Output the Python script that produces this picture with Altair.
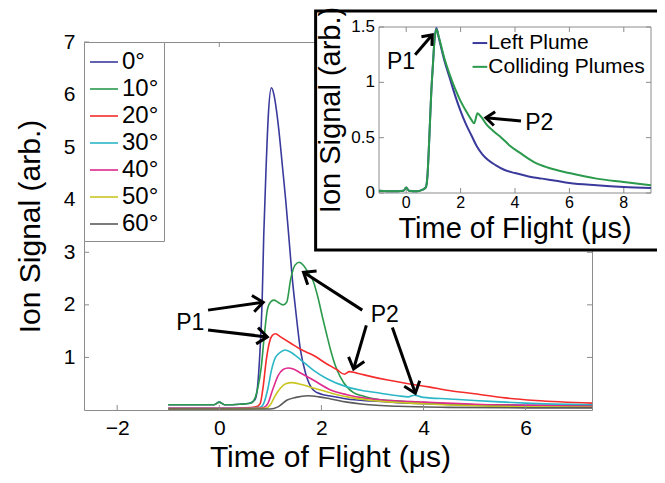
import math
import altair as alt
import pandas as pd

# ---------------- data ----------------
angles = ["0°", "10°", "20°", "30°", "40°", "50°", "60°"]
colors = ["#3a3a9c", "#2b9a4c", "#f52c2c", "#2bb7c6", "#df2a8e", "#c9c622", "#5a5a5a"]

t_0 = [-1.0, -0.5, -0.1, 0.0, 0.1, 0.4, 0.6, 0.7, 0.75, 0.79, 0.84, 0.87, 0.92, 0.96, 1.02, 1.07, 1.12, 1.18,
       1.23, 1.30, 1.37, 1.43, 1.49, 1.59, 1.69, 1.84, 2.0, 2.2, 2.5, 3.0, 3.5, 4.0, 5.0, 6.0, 7.3]
s_0 = [0.10, 0.10, 0.10, 0.15, 0.10, 0.11, 0.13, 0.20, 0.45, 1.00, 2.10, 3.30, 4.70, 5.60, 6.13, 6.00, 5.70, 5.20,
       4.70, 4.00, 3.20, 2.50, 1.95, 1.14, 0.70, 0.38, 0.30, 0.26, 0.21, 0.17, 0.14, 0.12, 0.10, 0.09, 0.08]
t_10 = [-1.0, -0.5, -0.1, 0.0, 0.1, 0.4, 0.6, 0.65, 0.75, 0.82, 0.88, 0.94, 1.0, 1.07, 1.15, 1.25, 1.32, 1.40,
        1.48, 1.56, 1.65, 1.75, 1.84, 1.93, 2.02, 2.10, 2.18, 2.27, 2.37, 2.50, 2.63, 2.80, 3.0, 3.5, 4.0, 5.0, 6.0, 7.3]
s_10 = [0.10, 0.10, 0.10, 0.15, 0.10, 0.11, 0.13, 0.15, 0.40, 0.80, 1.40, 1.90, 2.05, 2.09, 2.05, 2.00, 2.05, 2.50,
        2.75, 2.81, 2.75, 2.60, 2.45, 2.15, 1.77, 1.45, 1.14, 0.85, 0.63, 0.44, 0.33, 0.27, 0.22, 0.17, 0.14, 0.10, 0.08, 0.07]
t_20 = [-1.0, -0.5, 0.0, 0.5, 0.72, 0.80, 0.86, 0.92, 0.98, 1.04, 1.10, 1.20, 1.40, 1.60, 1.84, 2.10, 2.30, 2.45,
        2.55, 2.70, 3.0, 3.3, 3.7, 4.1, 4.5, 5.0, 5.6, 6.2, 7.3]
s_20 = [0.03, 0.03, 0.03, 0.04, 0.06, 0.12, 0.45, 0.95, 1.28, 1.42, 1.45, 1.39, 1.27, 1.15, 1.04, 0.88, 0.77, 0.68,
        0.73, 0.70, 0.63, 0.57, 0.50, 0.44, 0.37, 0.31, 0.23, 0.18, 0.13]
t_30 = [-1.0, 0.0, 0.5, 0.80, 0.88, 0.95, 1.02, 1.10, 1.20, 1.29, 1.40, 1.60, 1.84, 2.10, 2.50, 2.80, 3.16, 3.50,
        3.70, 3.82, 4.0, 4.5, 5.0, 5.6, 6.0, 7.3]
s_30 = [0.03, 0.03, 0.03, 0.05, 0.15, 0.40, 0.75, 1.00, 1.10, 1.14, 1.10, 0.95, 0.76, 0.60, 0.44, 0.37, 0.32, 0.27,
        0.25, 0.28, 0.24, 0.21, 0.18, 0.15, 0.13, 0.10]
t_40 = [-1.0, 0.0, 0.5, 0.85, 0.95, 1.05, 1.15, 1.25, 1.35, 1.45, 1.60, 1.84, 2.18, 2.50, 2.82, 3.20, 4.0, 5.0, 6.0, 7.3]
s_40 = [0.03, 0.03, 0.03, 0.04, 0.12, 0.40, 0.65, 0.77, 0.80, 0.78, 0.70, 0.57, 0.38, 0.29, 0.23, 0.19, 0.15, 0.11, 0.09, 0.07]
t_50 = [-1.0, 0.0, 0.90, 1.0, 1.10, 1.20, 1.30, 1.42, 1.55, 1.84, 2.20, 2.50, 3.0, 4.0, 5.0, 6.0, 7.3]
s_50 = [0.02, 0.02, 0.03, 0.10, 0.28, 0.42, 0.50, 0.52, 0.50, 0.42, 0.32, 0.25, 0.18, 0.12, 0.08, 0.06, 0.05]
t_60 = [-1.0, 0.0, 1.0, 1.15, 1.33, 1.50, 1.73, 1.95, 2.18, 2.50, 2.82, 3.5, 4.5, 6.0, 7.3]
s_60 = [0.02, 0.02, 0.02, 0.06, 0.19, 0.24, 0.27, 0.25, 0.21, 0.15, 0.11, 0.07, 0.05, 0.04, 0.04]

# inset
inset_names = ["Left Plume", "Colliding Plumes"]
inset_colors = ["#3a3a9c", "#2b9a4c"]
it_left = [-1.0, -0.5, -0.1, 0.0, 0.1, 0.4, 0.6, 0.72, 0.78, 0.85, 0.92, 0.98, 1.04, 1.11, 1.20, 1.40, 1.60, 1.80,
           2.0, 2.2, 2.4, 2.6, 2.8, 3.0, 3.3, 3.6, 4.0, 4.5, 5.0, 5.5, 6.0, 7.0, 8.0, 9.0]
is_left = [0.02, 0.015, 0.02, 0.05, 0.02, 0.015, 0.03, 0.05, 0.15, 0.50, 0.90, 1.15, 1.38, 1.49, 1.40, 1.20, 1.04, 0.88,
           0.74, 0.62, 0.52, 0.42, 0.35, 0.30, 0.25, 0.21, 0.18, 0.15, 0.13, 0.11, 0.09, 0.07, 0.055, 0.045]
it_coll = [-1.0, -0.5, -0.1, 0.0, 0.1, 0.4, 0.6, 0.72, 0.78, 0.85, 0.92, 0.98, 1.04, 1.11, 1.20, 1.40, 1.60, 1.80,
           2.0, 2.2, 2.4, 2.5, 2.62, 2.75, 2.95, 3.2, 3.5, 3.8, 4.2, 4.7, 5.2, 6.0, 7.0, 8.0, 9.0]
is_coll = [0.02, 0.015, 0.02, 0.05, 0.02, 0.015, 0.03, 0.05, 0.15, 0.50, 0.90, 1.15, 1.38, 1.48, 1.41, 1.22, 1.07, 0.94,
           0.83, 0.74, 0.66, 0.63, 0.72, 0.69, 0.62, 0.56, 0.50, 0.43, 0.36, 0.28, 0.23, 0.18, 0.13, 0.10, 0.07]

# axis ticks
x_ticks = [-2, 0, 2, 4, 6]
y_ticks = [1, 2, 3, 4, 5, 6, 7]
ix_ticks = [0, 2, 4, 6, 8]
iy_ticks = [0, 0.5, 1, 1.5]
iy_labels = ["0", "0.5", "1", "1.5"]

# annotations (data coordinates)
main_labels = ["P1", "P2"]
main_label_x = [-0.57, 3.24]
main_label_y = [1.65, 1.80]
main_arrow_tail_x = [-0.22, -0.22, 2.80, 2.88, 3.39]
main_arrow_tail_y = [1.90, 1.52, 1.90, 1.61, 1.57]
main_arrow_tip_x = [0.86, 0.94, 1.65, 2.63, 3.84]
main_arrow_tip_y = [2.05, 1.39, 2.62, 0.78, 0.32]

inset_labels = ["P1", "P2"]
inset_label_x = [-0.19, 4.89]
inset_label_y = [1.18, 0.63]
inset_arrow_tail_x = [0.33, 4.22]
inset_arrow_tail_y = [1.25, 0.65]
inset_arrow_tip_x = [0.96, 2.93]
inset_arrow_tip_y = [1.43, 0.68]

# ---------------- layout ----------------
W, H = 508, 368
X_DOM = [-2.65, 7.3]
Y_DOM = [0, 7]
IX_DOM = [-1, 9]
IY_DOM = [0, 1.5]
IX_RANGE = [295, 567]
IY_RANGE = [151, -15]
INSET_BOX = {"x0": -3.33, "x1": 9.48, "y0": -0.515, "y1": 1.645}
FRAME = "#8c8c8c"
FONT = "Liberation Sans"

SX = W / (X_DOM[1] - X_DOM[0])
SY = H / (Y_DOM[1] - Y_DOM[0])
ISX = (IX_RANGE[1] - IX_RANGE[0]) / (IX_DOM[1] - IX_DOM[0])
ISY = (IY_RANGE[0] - IY_RANGE[1]) / (IY_DOM[1] - IY_DOM[0])

msx = alt.Scale(domain=X_DOM, nice=False, zero=False)
msy = alt.Scale(domain=Y_DOM, nice=False, zero=False)
isx = alt.Scale(domain=IX_DOM, range=IX_RANGE, nice=False, zero=False)
isy = alt.Scale(domain=IY_DOM, range=IY_RANGE, nice=False, zero=False)


def MX(f):
    return alt.X(f, type="quantitative", scale=msx, axis=None)


def MY(f):
    return alt.Y(f, type="quantitative", scale=msy, axis=None)


def IX(f):
    return alt.X(f, type="quantitative", scale=isx, axis=None)


def IY(f):
    return alt.Y(f, type="quantitative", scale=isy, axis=None)


# ---------------- main lines ----------------
series_t = [t_0, t_10, t_20, t_30, t_40, t_50, t_60]
series_s = [s_0, s_10, s_20, s_30, s_40, s_50, s_60]
rows = []
for a, ts, ss in zip(angles, series_t, series_s):
    for t, s in zip(ts, ss):
        rows.append({"angle": a, "t": t, "v": s})
main_df = pd.DataFrame(rows)

main_lines = alt.Chart(main_df).mark_line(strokeWidth=1.6, interpolate="monotone").encode(
    x=alt.X("t:Q", scale=msx, axis=alt.Axis(
        values=x_ticks, title="Time of Flight (μs)", labelFontSize=21, labelColor="black",
        tickSize=0, domain=False, grid=False, labelPadding=7, titleFontSize=30,
        titleFontWeight="normal", titleColor="black", titlePadding=4, titleX=246)),
    y=alt.Y("v:Q", scale=msy, axis=alt.Axis(
        values=y_ticks, title="Ion Signal (arb.)", labelFontSize=21, labelColor="black",
        tickSize=0, domain=False, grid=False, labelPadding=9, titleFontSize=30,
        titleFontWeight="normal", titleColor="black", titlePadding=18)),
    color=alt.Color("angle:N", sort=angles, scale=alt.Scale(domain=angles, range=colors),
                    legend=alt.Legend(title=None, orient="top-left", offset=0, strokeColor=FRAME,
                                      fillColor="white", padding=5, symbolType="stroke",
                                      symbolSize=784, symbolStrokeWidth=1.6, labelFontSize=24,
                                      labelColor="black", rowPadding=0, labelOffset=3)),
    detail="angle:N",
)

# main inward ticks
xt_df = pd.DataFrame({"v": x_ticks})
yt_df = pd.DataFrame({"v": y_ticks})
tick_bot = alt.Chart(xt_df).mark_rule(color=FRAME).encode(x=MX("v"), y=alt.value(H), y2=alt.value(H - 5))
tick_top = alt.Chart(xt_df).mark_rule(color=FRAME).encode(x=MX("v"), y=alt.value(0), y2=alt.value(5))
tick_left = alt.Chart(yt_df).mark_rule(color=FRAME).encode(y=MY("v"), x=alt.value(0), x2=alt.value(5))
tick_right = alt.Chart(yt_df).mark_rule(color=FRAME).encode(y=MY("v"), x=alt.value(W), x2=alt.value(W - 5))


def arrow_layers(tx, ty, px, py, xf, yf, sx, sy, size):
    angs = [math.degrees(math.atan2(-(b2 - b1) * sy, (a2 - a1) * sx)) % 360
            for a1, b1, a2, b2 in zip(tx, ty, px, py)]
    df = pd.DataFrame({"x": tx, "y": ty, "x2": px, "y2": py, "ang": angs})
    shaft = alt.Chart(df).mark_rule(color="black", strokeWidth=3).encode(
        x=xf("x"), y=yf("y"), x2="x2:Q", y2="y2:Q")
    head = alt.Chart(df).mark_point(shape="M-1,-0.8L0,0L-1,0.8", filled=False, color="black",
                                    strokeWidth=3, size=size, opacity=1).encode(
        x=xf("x2"), y=yf("y2"), angle=alt.Angle("ang:Q", scale=None))
    return [shaft, head]


main_arrows = arrow_layers(main_arrow_tail_x, main_arrow_tail_y, main_arrow_tip_x, main_arrow_tip_y,
                           MX, MY, SX, SY, 420)
main_text = alt.Chart(pd.DataFrame({"x": main_label_x, "y": main_label_y, "s": main_labels})).mark_text(
    fontSize=23, color="black", align="center", baseline="middle").encode(x=MX("x"), y=MY("y"), text="s:N")

# ---------------- inset ----------------
box = alt.Chart(pd.DataFrame([INSET_BOX])).mark_rect(fill="white", stroke="black", strokeWidth=3).encode(
    x=IX("x0"), x2="x1:Q", y=IY("y0"), y2="y1:Q")
iframe = alt.Chart(pd.DataFrame([{"x0": IX_DOM[0], "x1": IX_DOM[1], "y0": IY_DOM[0], "y1": IY_DOM[1]}])).mark_rect(
    fill="transparent", stroke=FRAME, strokeWidth=1).encode(x=IX("x0"), x2="x1:Q", y=IY("y0"), y2="y1:Q")

TLX = 5 / ISX
TLY = 5 / ISY
ixt = pd.DataFrame({"v": ix_ticks, "b0": IY_DOM[0], "b1": IY_DOM[0] + TLY, "t0": IY_DOM[1], "t1": IY_DOM[1] - TLY})
iyt = pd.DataFrame({"v": iy_ticks, "l0": IX_DOM[0], "l1": IX_DOM[0] + TLX, "r0": IX_DOM[1], "r1": IX_DOM[1] - TLX,
                    "lab": iy_labels})
itick_b = alt.Chart(ixt).mark_rule(color=FRAME).encode(x=IX("v"), y=IY("b0"), y2="b1:Q")
itick_t = alt.Chart(ixt).mark_rule(color=FRAME).encode(x=IX("v"), y=IY("t0"), y2="t1:Q")
itick_l = alt.Chart(iyt).mark_rule(color=FRAME).encode(y=IY("v"), x=IX("l0"), x2="l1:Q")
itick_r = alt.Chart(iyt).mark_rule(color=FRAME).encode(y=IY("v"), x=IX("r0"), x2="r1:Q")

ixlab = alt.Chart(ixt).mark_text(fontSize=16, color="black", baseline="top", dy=2).encode(
    x=IX("v"), y=IY("b0"), text="v:N")
iylab = alt.Chart(iyt).mark_text(fontSize=17, color="black", align="right", baseline="middle", dx=-4).encode(
    x=IX("l0"), y=IY("v"), text="lab:N")

ixtitle = alt.Chart(pd.DataFrame({"x": [4.0], "y": [-0.407], "s": ["Time of Flight (μs)"]})).mark_text(
    fontSize=29, color="black", align="center", baseline="alphabetic").encode(
    x=IX("x"), y=IY("y"), text="s:N")
iytitle = alt.Chart(pd.DataFrame({"x": [-2.44], "y": [0.75], "s": ["Ion Signal (arb.)"]})).mark_text(
    fontSize=29, color="black", align="center", baseline="alphabetic", angle=270).encode(
    x=IX("x"), y=IY("y"), text="s:N")

ileft = alt.Chart(pd.DataFrame({"t": it_left, "v": is_left})).mark_line(
    color=inset_colors[0], strokeWidth=2, interpolate="monotone").encode(x=IX("t"), y=IY("v"))
icoll = alt.Chart(pd.DataFrame({"t": it_coll, "v": is_coll})).mark_line(
    color=inset_colors[1], strokeWidth=2, interpolate="monotone").encode(x=IX("t"), y=IY("v"))

ileg_y = [1.355, 1.14]
ileg_sym = []
for name, col, yy in zip(inset_names, inset_colors, ileg_y):
    ileg_sym.append(alt.Chart(pd.DataFrame({"x": [2.44], "x2": [2.98], "y": [yy]})).mark_rule(
        color=col, strokeWidth=2).encode(x=IX("x"), x2="x2:Q", y=IY("y")))
ileg_text = alt.Chart(pd.DataFrame({"x": [3.02, 3.02], "y": ileg_y, "s": inset_names})).mark_text(
    fontSize=21, color="black", align="left", baseline="middle").encode(x=IX("x"), y=IY("y"), text="s:N")

inset_arrows = arrow_layers(inset_arrow_tail_x, inset_arrow_tail_y, inset_arrow_tip_x, inset_arrow_tip_y,
                            IX, IY, ISX, ISY, 300)
inset_text = alt.Chart(pd.DataFrame({"x": inset_label_x, "y": inset_label_y, "s": inset_labels})).mark_text(
    fontSize=23, color="black", align="center", baseline="middle").encode(x=IX("x"), y=IY("y"), text="s:N")

layers = ([main_lines, tick_bot, tick_top, tick_left, tick_right] + main_arrows + [main_text] +
          [box, iframe, itick_b, itick_t, itick_l, itick_r, ixlab, iylab, ixtitle, iytitle, ileft, icoll] +
          ileg_sym + [ileg_text] + inset_arrows + [inset_text])

chart = alt.layer(*layers).resolve_scale(x="independent", y="independent").properties(
    width=W, height=H,
    autosize=alt.AutoSizeParams(type="none"),
    padding={"left": 76, "top": 34, "right": 65, "bottom": 65},
).configure(font=FONT).configure_view(stroke=FRAME, strokeWidth=1)

chart.save("out.html", embed_options={"renderer": "svg", "actions": False})
